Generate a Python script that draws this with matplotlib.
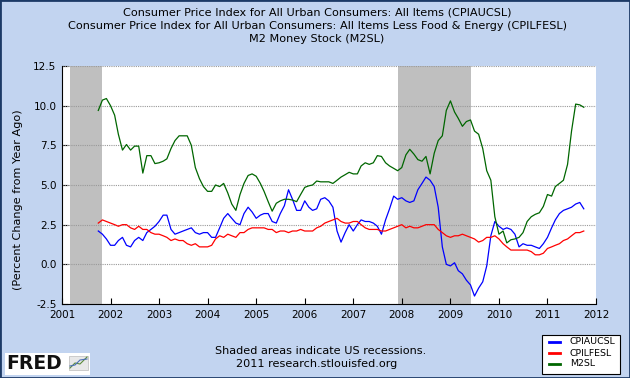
import numpy as np
import pandas as pd
import matplotlib
matplotlib.use('Agg')
import matplotlib.pyplot as plt
import matplotlib.dates as mdates
from matplotlib.patches import Rectangle

# monthly data, Oct 2001 - Oct 2011, percent change from year ago
dates = pd.date_range('2001-10-01', '2011-10-01', freq='MS')

cpiaucsl = [2.1, 1.9, 1.6,
            1.2, 1.2, 1.5, 1.7, 1.2, 1.1, 1.5, 1.7, 1.5, 2.0, 2.2, 2.4,
            2.7, 3.1, 3.1, 2.2, 1.9, 2.0, 2.1, 2.2, 2.3, 2.0, 1.9, 2.0,
            2.0, 1.7, 1.7, 2.3, 2.9, 3.2, 2.9, 2.6, 2.5, 3.2, 3.6, 3.3,
            2.9, 3.1, 3.2, 3.2, 2.7, 2.6, 3.2, 3.7, 4.7, 4.1, 3.4, 3.4,
            4.0, 3.6, 3.4, 3.5, 4.1, 4.2, 4.0, 3.6, 2.1, 1.4, 2.0, 2.5,
            2.1, 2.5, 2.8, 2.7, 2.7, 2.6, 2.4, 1.9, 2.8, 3.5, 4.3, 4.1,
            4.2, 4.0, 3.9, 4.0, 4.7, 5.1, 5.5, 5.3, 4.9, 3.6, 1.1, 0.0,
            -0.1, 0.1, -0.4, -0.6, -1.0, -1.3, -2.0, -1.5, -1.1, -0.1, 1.8, 2.7,
            2.4, 2.2, 2.3, 2.2, 1.9, 1.1, 1.3, 1.2, 1.2, 1.1, 1.0, 1.3,
            1.7, 2.3, 2.8, 3.2, 3.4, 3.5, 3.6, 3.8, 3.9, 3.5]

cpilfesl = [2.6, 2.8, 2.7,
            2.6, 2.5, 2.4, 2.5, 2.5, 2.3, 2.2, 2.4, 2.2, 2.2, 2.0, 1.9,
            1.9, 1.8, 1.7, 1.5, 1.6, 1.5, 1.5, 1.3, 1.2, 1.3, 1.1, 1.1,
            1.1, 1.2, 1.6, 1.8, 1.7, 1.9, 1.8, 1.7, 2.0, 2.0, 2.2, 2.3,
            2.3, 2.3, 2.3, 2.2, 2.2, 2.0, 2.1, 2.1, 2.0, 2.1, 2.1, 2.2,
            2.1, 2.1, 2.1, 2.3, 2.4, 2.6, 2.7, 2.8, 2.9, 2.7, 2.6, 2.6,
            2.7, 2.7, 2.5, 2.3, 2.2, 2.2, 2.2, 2.1, 2.1, 2.2, 2.3, 2.4,
            2.5, 2.3, 2.4, 2.3, 2.3, 2.4, 2.5, 2.5, 2.5, 2.2, 2.0, 1.8,
            1.7, 1.8, 1.8, 1.9, 1.8, 1.7, 1.6, 1.4, 1.5, 1.7, 1.7, 1.8,
            1.6, 1.3, 1.1, 0.9, 0.9, 0.9, 0.9, 0.9, 0.8, 0.6, 0.6, 0.7,
            1.0, 1.1, 1.2, 1.3, 1.5, 1.6, 1.8, 2.0, 2.0, 2.1]

m2sl = [9.7, 10.35, 10.45,
        10.0, 9.4, 8.2, 7.2, 7.55, 7.2, 7.45, 7.45, 5.75, 6.85, 6.85, 6.35,
        6.4, 6.5, 6.65, 7.3, 7.8, 8.1, 8.1, 8.1, 7.5, 6.1, 5.4, 4.9,
        4.6, 4.6, 5.0, 4.9, 5.1, 4.5, 3.8, 3.4, 4.4, 5.1, 5.6, 5.7,
        5.55, 5.1, 4.6, 3.95, 3.35, 3.85, 4.0, 4.1, 4.1, 4.05, 3.95, 4.4,
        4.85, 4.95, 5.0, 5.25, 5.2, 5.2, 5.2, 5.1, 5.3, 5.5, 5.65, 5.8,
        5.7, 5.7, 6.2, 6.4, 6.3, 6.4, 6.85, 6.8, 6.4, 6.2, 6.05, 5.9,
        6.1, 6.9, 7.25, 6.95, 6.6, 6.5, 6.8, 5.7, 7.0, 7.8, 8.1, 9.7,
        10.3, 9.6, 9.2, 8.7, 9.0, 9.1, 8.4, 8.2, 7.3, 5.9, 5.3, 3.0,
        1.9, 2.1, 1.35, 1.55, 1.6, 1.7, 2.0, 2.7, 3.0, 3.15, 3.25, 3.65,
        4.4, 4.3, 4.9, 5.1, 5.3, 6.3, 8.4, 10.1, 10.05, 9.9]

recessions = [('2001-03-01', '2001-11-01'), ('2007-12-01', '2009-06-01')]
series_names = ['CPIAUCSL', 'CPILFESL', 'M2SL']
series_colors = ['#0000ff', '#ff0000', '#006600']
titles = ['Consumer Price Index for All Urban Consumers: All Items (CPIAUCSL)',
          'Consumer Price Index for All Urban Consumers: All Items Less Food & Energy (CPILFESL)',
          'M2 Money Stock (M2SL)']
yticks = [-2.5, 0.0, 2.5, 5.0, 7.5, 10.0, 12.5]

W, H = 630, 378
bg = '#c2d4f0'
fig = plt.figure(figsize=(6.3, 3.78), dpi=100, facecolor=bg)
fig.patches.append(Rectangle((0, 0), 1, 1, transform=fig.transFigure,
                             fill=False, edgecolor='#1c3a66', linewidth=2))

ax = fig.add_axes([62/W, 1-304/H, (596-62)/W, (304-66)/H])
ax.set_facecolor('white')

for start, end in recessions:
    ax.axvspan(pd.Timestamp(start), pd.Timestamp(end), color='#bfbfbf', lw=0, zorder=1)

for y in yticks:
    ax.axhline(y, color='#999999', lw=0.8, ls=(0, (1, 1)), zorder=2)

for vals, name, c in zip([cpiaucsl, cpilfesl, m2sl], series_names, series_colors):
    ax.plot(dates, vals, color=c, lw=0.9, label=name, zorder=3)

ax.set_xlim(pd.Timestamp('2001-01-01'), pd.Timestamp('2012-01-01'))
ax.set_ylim(-2.5, 12.5)
ax.set_yticks(yticks)
ax.set_yticklabels(['%.1f' % v for v in yticks])
ax.xaxis.set_major_locator(mdates.YearLocator())
ax.xaxis.set_major_formatter(mdates.DateFormatter('%Y'))
ax.tick_params(axis='both', direction='in', length=4, width=0.8,
               labelsize=7.5, colors='black', pad=4)
for s in ['top', 'right']:
    ax.spines[s].set_visible(False)
for s in ['left', 'bottom']:
    ax.spines[s].set_color('black')
    ax.spines[s].set_linewidth(0.8)
    ax.spines[s].set_zorder(4)

fig.text(18/W, 1-200/H, '(Percent Change from Year Ago)', rotation=90,
         ha='center', va='center', fontsize=8.1)

for i, t in enumerate(titles):
    fig.text(317/W, 1-(12.5+13.3*i)/H, t, ha='center', va='center', fontsize=8.1)

fig.text(321/W, 1-351.5/H, 'Shaded areas indicate US recessions.',
         ha='center', va='center', fontsize=8.1)
fig.text(317/W, 1-364/H, '2011 research.stlouisfed.org',
         ha='center', va='center', fontsize=8.1)

# legend box
fig.patches.append(Rectangle((542/W, 1-374/H), 78/W, 39/H,
                             transform=fig.transFigure, facecolor='white',
                             edgecolor='black', linewidth=0.8))
for i, (name, c) in enumerate(zip(series_names, series_colors)):
    yy = 1-(342+11*i)/H
    fig.lines.append(plt.Line2D([549/W, 560/W], [yy, yy], transform=fig.transFigure,
                                color=c, lw=2))
    fig.text(570/W, yy, name, ha='left', va='center', fontsize=6.75)

# FRED logo
fig.patches.append(Rectangle((5/W, 1-375/H), 85/W, 22/H,
                             transform=fig.transFigure, facecolor='white',
                             edgecolor='none'))
fig.text(6/W, 1-363.5/H, 'FRED', ha='left', va='center', fontsize=13.5,
         fontweight='heavy', color='#111111')
fig.patches.append(Rectangle((69/W, 1-370/H), 19/W, 14/H,
                             transform=fig.transFigure, facecolor='#e8e8e8',
                             edgecolor='#bbbbbb', linewidth=0.5))
fig.lines.append(plt.Line2D([70/W, 75/W, 80/W, 87/W],
                            [1-368/H, 1-363/H, 1-364/H, 1-357/H],
                            transform=fig.transFigure, color='#5a8a3a', lw=0.8))
fig.lines.append(plt.Line2D([70/W, 75/W, 80/W, 87/W],
                            [1-366/H, 1-365/H, 1-360/H, 1-359/H],
                            transform=fig.transFigure, color='#4a6fb5', lw=0.8))

fig.savefig('out.png', dpi=100, facecolor=bg)
